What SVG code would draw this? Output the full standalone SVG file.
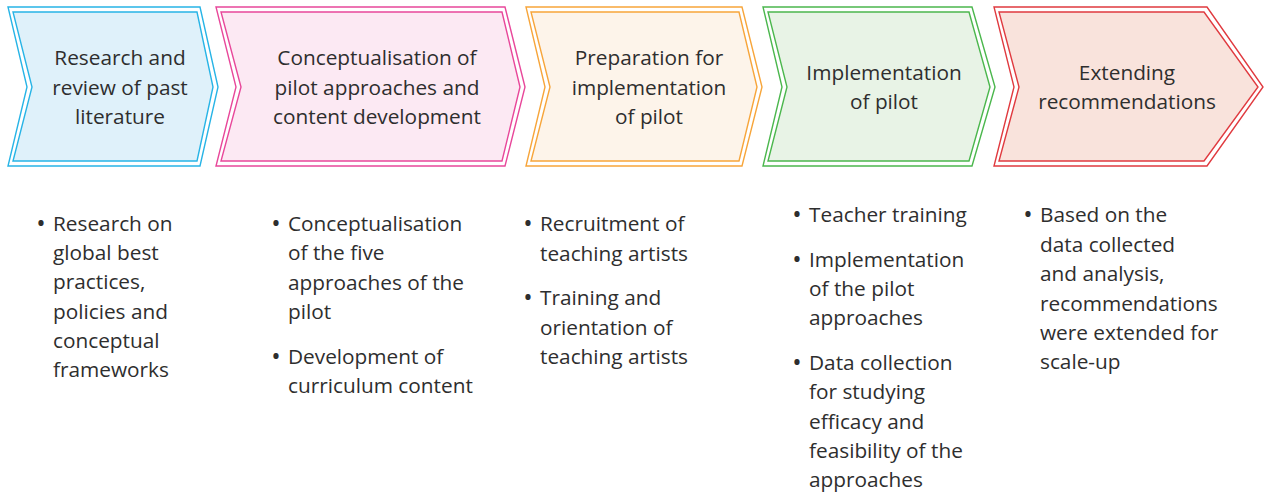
<svg xmlns="http://www.w3.org/2000/svg" width="1264" height="493" viewBox="0 0 1264 493">
  <style>
    .outer { fill: none; stroke-width: 1.4; }
    .inner { stroke-width: 1.4; }
    .title { font-family: "Open Sans", "Liberation Sans", sans-serif; font-size: 20.8px; fill: #2e2e2e; text-anchor: middle; }
    .item { font-family: "Open Sans", "Liberation Sans", sans-serif; font-size: 20.8px; fill: #2e2e2e; }
    .dot { font-family: "Open Sans", "Liberation Sans", sans-serif; font-size: 25px; fill: #2e2e2e; text-anchor: middle; }
    .blue { stroke: #27b4e6; }
    .pink { stroke: #e8479a; }
    .orange { stroke: #f7a53a; }
    .green { stroke: #4bb74d; }
    .red { stroke: #e03a3f; }
  </style>
  <rect width="1264" height="493" fill="#ffffff"/>

  <!-- stage 1 -->
  <g id="stage-research">
    <polygon class="outer blue" points="8,7 200,7 218,87 200,166 8,166 27,87"/>
    <polygon class="inner blue" fill="#dff1fa" points="13,12 197,12 213,87 197,161 13,161 32,87"/>
    <text class="title" x="120" y="65">Research and</text>
    <text class="title" x="120" y="95">review of past</text>
    <text class="title" x="120" y="124">literature</text>
  </g>

  <!-- stage 2 -->
  <g id="stage-concept">
    <polygon class="outer pink" points="216,7 505,7 525,87 505,166 216,166 236,87"/>
    <polygon class="inner pink" fill="#fce9f3" points="221,12 502,12 520,87 502,161 221,161 241,87"/>
    <text class="title" x="377" y="65">Conceptualisation of</text>
    <text class="title" x="377" y="95">pilot approaches and</text>
    <text class="title" x="377" y="124">content development</text>
  </g>

  <!-- stage 3 -->
  <g id="stage-preparation">
    <polygon class="outer orange" points="526,7 742,7 762,87 742,166 526,166 545,87"/>
    <polygon class="inner orange" fill="#fdf4ea" points="531,12 739,12 757,87 739,161 531,161 550,87"/>
    <text class="title" x="649" y="65">Preparation for</text>
    <text class="title" x="649" y="95">implementation</text>
    <text class="title" x="649" y="124">of pilot</text>
  </g>

  <!-- stage 4 -->
  <g id="stage-implementation">
    <polygon class="outer green" points="763,7 972,7 995,87 972,166 763,166 782,87"/>
    <polygon class="inner green" fill="#e8f3e6" points="768,12 969,12 990,87 969,161 768,161 787,87"/>
    <text class="title" x="884" y="80">Implementation</text>
    <text class="title" x="884" y="109">of pilot</text>
  </g>

  <!-- stage 5 -->
  <g id="stage-extending">
    <polygon class="outer red" points="994,7 1207,7 1263,87 1207,166 994,166 1014,87"/>
    <polygon class="inner red" fill="#f9e3dc" points="999,12 1204,12 1258,87 1204,161 999,161 1019,87"/>
    <text class="title" x="1127" y="80">Extending</text>
    <text class="title" x="1127" y="109">recommendations</text>
  </g>

  <!-- activities under each stage -->
  <g id="notes-research">
    <text class="dot" x="41" y="232">•</text>
    <text class="item" x="53" y="231">Research on</text>
    <text class="item" x="53" y="260">global best</text>
    <text class="item" x="53" y="289">practices,</text>
    <text class="item" x="53" y="319">policies and</text>
    <text class="item" x="53" y="348">conceptual</text>
    <text class="item" x="53" y="377">frameworks</text>
  </g>

  <g id="notes-concept">
    <text class="dot" x="276" y="232">•</text>
    <text class="item" x="288" y="231">Conceptualisation</text>
    <text class="item" x="288" y="260">of the five</text>
    <text class="item" x="288" y="290">approaches of the</text>
    <text class="item" x="288" y="319">pilot</text>
    <text class="dot" x="276" y="365">•</text>
    <text class="item" x="288" y="364">Development of</text>
    <text class="item" x="288" y="393">curriculum content</text>
  </g>

  <g id="notes-preparation">
    <text class="dot" x="528" y="232">•</text>
    <text class="item" x="540" y="231">Recruitment of</text>
    <text class="item" x="540" y="261">teaching artists</text>
    <text class="dot" x="528" y="306">•</text>
    <text class="item" x="540" y="305">Training and</text>
    <text class="item" x="540" y="335">orientation of</text>
    <text class="item" x="540" y="364">teaching artists</text>
  </g>

  <g id="notes-implementation">
    <text class="dot" x="797" y="223">•</text>
    <text class="item" x="809" y="222">Teacher training</text>
    <text class="dot" x="797" y="268">•</text>
    <text class="item" x="809" y="267">Implementation</text>
    <text class="item" x="809" y="296">of the pilot</text>
    <text class="item" x="809" y="325">approaches</text>
    <text class="dot" x="797" y="371">•</text>
    <text class="item" x="809" y="370">Data collection</text>
    <text class="item" x="809" y="399">for studying</text>
    <text class="item" x="809" y="429">efficacy and</text>
    <text class="item" x="809" y="458">feasibility of the</text>
    <text class="item" x="809" y="487">approaches</text>
  </g>

  <g id="notes-extending">
    <text class="dot" x="1028" y="223">•</text>
    <text class="item" x="1040" y="222">Based on the</text>
    <text class="item" x="1040" y="252">data collected</text>
    <text class="item" x="1040" y="281">and analysis,</text>
    <text class="item" x="1040" y="311">recommendations</text>
    <text class="item" x="1040" y="340">were extended for</text>
    <text class="item" x="1040" y="369">scale-up</text>
  </g>
</svg>
